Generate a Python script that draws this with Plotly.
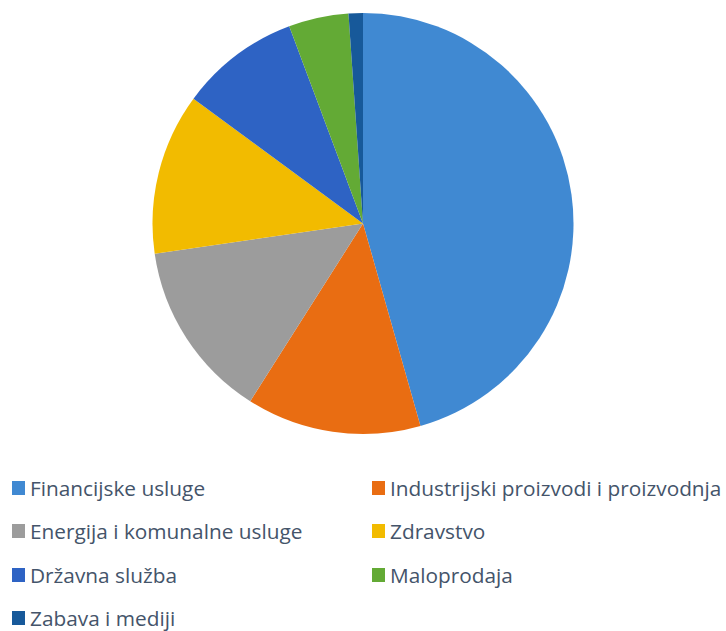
import plotly.graph_objects as go

categories = ["Financijske usluge", "Industrijski proizvodi i proizvodnja",
              "Energija i komunalne usluge", "Zdravstvo", "Državna služba",
              "Maloprodaja", "Zabava i mediji"]
values = [45.6, 13.4, 13.7, 12.4, 9.2, 4.6, 1.1]
colors = ["#4089d2", "#e96d12", "#9c9c9c", "#f2bb00", "#2e63c4", "#63aa35", "#17599a"]

W, H = 726, 631
fig = go.Figure()
fig.add_trace(go.Pie(
    labels=categories, values=values, sort=False, direction="clockwise",
    rotation=0, marker=dict(colors=colors, line=dict(width=0)),
    textinfo="none", hoverinfo="label+percent", showlegend=False,
    domain=dict(x=[0, 1], y=[(H - 434) / H, (H - 13) / H]),
))

# legend: two columns
col_x = [12, 372]
row_y = [488, 531, 575, 618]
shapes, annos = [], []
for i, (lab, c) in enumerate(zip(categories, colors)):
    cx = col_x[i % 2]
    cy = row_y[i // 2]
    shapes.append(dict(type="rect", xref="paper", yref="paper",
                       x0=cx / W, x1=(cx + 13) / W,
                       y0=(H - cy - 7) / H, y1=(H - cy + 7) / H,
                       fillcolor=c, line=dict(width=0)))
    annos.append(dict(text=lab, xref="paper", yref="paper",
                      x=(cx + 16) / W, y=(H - cy) / H, xanchor="left", yanchor="middle",
                      showarrow=False,
                      font=dict(family="Open Sans", size=20.8, color="#44546a")))

fig.update_layout(width=W, height=H, margin=dict(l=0, r=0, t=0, b=0),
                  paper_bgcolor="white", plot_bgcolor="white",
                  shapes=shapes, annotations=annos)
fig.write_html("out.html")
